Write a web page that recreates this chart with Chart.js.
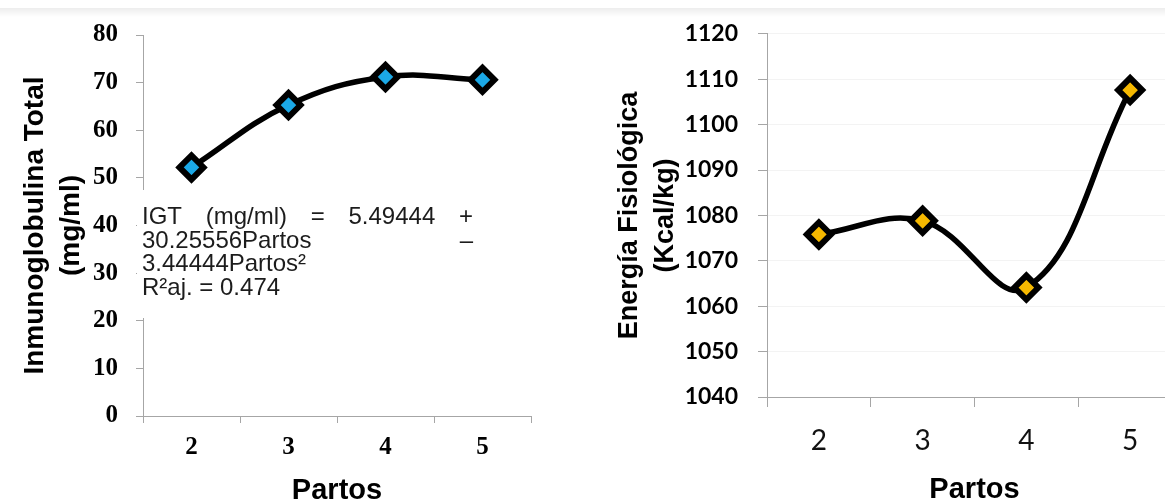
<!DOCTYPE html>
<html>
<head>
<meta charset="utf-8">
<script src="https://cdn.jsdelivr.net/npm/chart.js@4.4.1/dist/chart.umd.min.js"></script>
<style>
  html, body { margin: 0; padding: 0; background: #fff; width: 1165px; height: 500px; overflow: hidden; }
  #topband { position: absolute; left: 0; top: 8px; width: 1165px; height: 9px; background: linear-gradient(#ededed, #ffffff); }
  .panel { position: absolute; top: 0; height: 520px; }
  #left { left: 0; width: 560px; }
  #right { left: 600px; width: 600px; }
</style>
</head>
<body>
<div id="topband"></div>
<div class="panel" id="left"><canvas id="igt" width="560" height="520"></canvas></div>
<div class="panel" id="right"><canvas id="energy" width="600" height="520"></canvas></div>
<script>
// Number of calvings (x categories)
const partos = ['2', '3', '4', '5'];

// Total immunoglobulin (mg/ml) by calving number
const igtValues = [52.2, 65.3, 71.2, 70.6];
const igtTicks = [0, 10, 20, 30, 40, 50, 60, 70, 80];

// Physiological energy (Kcal/kg) by calving number
const energyValues = [1075.8, 1078.8, 1064.1, 1107.6];
const energyTicks = [1040, 1050, 1060, 1070, 1080, 1090, 1100, 1110, 1120];

// Fitted equation shown inside the left panel (one array per printed line)
const equationLines = [
  ['IGT', '(mg/ml)', '=', '5.49444', '+'],
  ['30.25556Partos', '\u2013'],
  ['3.44444Partos\u00b2'],
  ['R\u00b2aj. = 0.474']
];

const AXIS_GREY = '#a6a6a6';

// Writes the regression equation in a justified white text box
const equationPlugin = {
  id: 'equationBox',
  afterDraw(chart) {
    const { ctx, chartArea } = chart;
    const left = chartArea.left - 1;
    const width = 331;
    ctx.save();
    ctx.fillStyle = '#ffffff';
    ctx.fillRect(chartArea.left - 6, 190, 343, 128);
    ctx.font = '24px "Liberation Sans", Arial, sans-serif';
    ctx.fillStyle = '#1c1c1c';
    ctx.textBaseline = 'alphabetic';
    ctx.textAlign = 'left';
    const firstBaseline = 224;
    const step = 23.7;
    equationLines.forEach((words, i) => {
      const y = firstBaseline + i * step;
      const isLast = i === equationLines.length - 1;
      if (words.length > 1 && !isLast) {
        const total = words.reduce((s, w) => s + ctx.measureText(w).width, 0);
        const gap = (width - total) / (words.length - 1);
        let x = left;
        words.forEach(w => {
          ctx.fillText(w, x, y);
          x += ctx.measureText(w).width + gap;
        });
      } else {
        ctx.fillText(words.join(' '), left, y);
      }
    });
    ctx.restore();
  }
};

function lineDataset(values, fill) {
  return {
    data: values,
    borderColor: '#000',
    borderWidth: 5.5,
    tension: 0.4,
    pointStyle: 'rectRot',
    pointRadius: 12,
    pointHoverRadius: 12,
    pointBorderWidth: 6,
    pointBackgroundColor: fill,
    pointBorderColor: '#000'
  };
}

const common = {
  responsive: false,
  animation: false,
  events: [],
  plugins: { legend: { display: false }, tooltip: { enabled: false } }
};

new Chart(document.getElementById('igt'), {
  type: 'line',
  data: { labels: partos, datasets: [lineDataset(igtValues, '#1ba8e6')] },
  options: Object.assign({}, common, {
    layout: { padding: { top: 35, right: 29, left: 0, bottom: 0 } },
    scales: {
      x: {
        offset: true,
        grid: { offset: true, drawOnChartArea: false, tickLength: 7, color: AXIS_GREY },
        border: { color: AXIS_GREY, width: 1 },
        ticks: { color: '#000', padding: 10, font: { family: '"Liberation Serif", "Times New Roman", serif', weight: 'bold', size: 25 } },
        title: { display: true, text: 'Partos', color: '#000', padding: { bottom: 12 },
                 font: { family: '"Liberation Sans", Arial, sans-serif', weight: 'bold', size: 29 } },
        afterFit(s) { s.height = 520 - 416; }
      },
      y: {
        min: igtTicks[0],
        max: igtTicks[igtTicks.length - 1],
        afterBuildTicks(s) { s.ticks = igtTicks.map(v => ({ value: v })); },
        grid: { drawOnChartArea: false, tickLength: 7, color: AXIS_GREY },
        border: { color: AXIS_GREY, width: 1 },
        ticks: { color: '#000', padding: 18, font: { family: '"Liberation Serif", "Times New Roman", serif', weight: 'bold', size: 25 } },
        title: { display: true, text: ['Inmunoglobulina Total', '(mg/ml)'], color: '#000', padding: { top: 17 },
                 font: { family: '"Liberation Sans", Arial, sans-serif', weight: 'bold', size: 28, lineHeight: '36px' } },
        afterFit(s) { s.width = 143; }
      }
    }
  }),
  plugins: [equationPlugin]
});

new Chart(document.getElementById('energy'), {
  type: 'line',
  data: { labels: partos, datasets: [lineDataset(energyValues, '#f5b800')] },
  options: Object.assign({}, common, {
    layout: { padding: { top: 28, right: 8, left: 0, bottom: 0 } },
    scales: {
      x: {
        offset: true,
        grid: { offset: true, drawOnChartArea: false, tickLength: 10, color: AXIS_GREY },
        border: { color: AXIS_GREY, width: 1 },
        ticks: { color: '#111', padding: 17, font: { family: 'Lato, "Open Sans", sans-serif', weight: 'normal', size: 28 } },
        title: { display: true, text: 'Partos', color: '#000', padding: { bottom: 13 },
                 font: { family: '"Liberation Sans", Arial, sans-serif', weight: 'bold', size: 29 } },
        afterFit(s) { s.height = 520 - 397; }
      },
      y: {
        min: energyTicks[0],
        max: energyTicks[energyTicks.length - 1],
        afterBuildTicks(s) { s.ticks = energyTicks.map(v => ({ value: v })); },
        grid: { drawOnChartArea: true, tickLength: 9, color: '#f3f3f3', tickColor: AXIS_GREY },
        border: { color: AXIS_GREY, width: 1 },
        ticks: { color: '#000', padding: 20, callback: v => String(v),
                 font: { family: 'Lato, "Open Sans", sans-serif', weight: 'bold', size: 23 } },
        title: { display: true, text: ['Energía Fisiológica', '(Kcal/kg)'], color: '#000', padding: { top: 12 },
                 font: { family: '"Liberation Sans", Arial, sans-serif', weight: 'bold', size: 27, lineHeight: '36px' } },
        afterFit(s) { s.width = 167; }
      }
    }
  })
});
</script>
</body>
</html>
